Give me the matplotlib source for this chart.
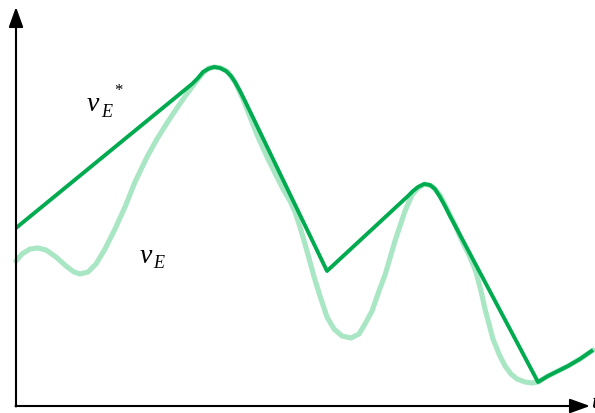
import matplotlib
matplotlib.use("Agg")
import matplotlib.pyplot as plt

# Sampled waveforms (time, voltage) in arbitrary units
t_ve = [0, 6, 14, 22, 30, 40, 50, 58, 64, 72,
        80, 89, 99, 109, 119, 131, 141, 151, 161, 170,
        179, 187, 193, 199, 205, 212, 219, 227, 234, 242,
        252, 260, 267, 274, 279, 284, 289, 294, 299, 304,
        311, 318, 326, 335, 343, 349, 356, 363, 369, 379,
        389, 396, 402, 409, 416, 424, 432, 439, 446, 453,
        460, 465, 469, 473, 477, 483, 489, 495, 501, 509,
        516, 522, 532, 542, 552, 564, 577]
v_ve = [145, 152, 157, 158, 156, 149, 140, 134, 132, 134,
        142, 157, 177, 199, 224, 249, 267, 283, 298, 311,
        323, 333, 338, 339, 338, 334, 324, 307, 289, 269,
        247, 231, 217, 205, 194, 179, 162, 144, 126, 110,
        89, 77, 70, 68, 72, 82, 95, 115, 131, 165,
        195, 211, 218, 222, 220, 211, 195, 181, 165, 151,
        134, 115, 97, 82, 67, 52, 40, 32, 27, 24,
        23, 24, 30, 35, 40, 47, 56]

t_ref = [0, 176, 182, 187, 192, 198, 204, 210, 215, 219,
         224, 229, 311, 392, 397, 402, 408, 414, 419, 424,
         429, 434, 522, 532, 542, 552, 564, 577]
v_ref = [178, 322, 328, 334, 337, 339, 338, 335, 330, 324,
         315, 305, 135, 210, 215, 219, 222, 221, 217, 209,
         200, 190, 24, 30, 35, 40, 47, 56]

t_axis_end = 574
v_axis_end = 399

fig = plt.figure(figsize=(5.95, 4.14), dpi=100)
ax = fig.add_axes([0, 0, 1, 1])
ax.set_xlim(-16, 579)
ax.set_ylim(-7, 407)
ax.axis("off")

light = "#a8e6c4"
dark = "#00aa4f"
ax.plot(t_ve, v_ve, color=light, lw=3.7, solid_joinstyle="round",
        solid_capstyle="round", zorder=2)
ax.plot(t_ref, v_ref, color=dark, lw=2.8, solid_joinstyle="round",
        solid_capstyle="butt", zorder=3)

arrow = dict(arrowstyle="-|>,head_length=0.61,head_width=0.22",
             mutation_scale=20, color="black", lw=1.5, shrinkA=0, shrinkB=0)
ax.annotate("", xy=(0, v_axis_end), xytext=(0, -0.5), arrowprops=arrow, zorder=4)
ax.annotate("", xy=(t_axis_end, 0), xytext=(-0.5, 0), arrowprops=arrow, zorder=4)

serif = dict(family="Liberation Serif", style="italic", color="black")
ax.text(71, 296, "v", fontsize=20, ha="left", va="baseline", **serif)
ax.text(85, 290, "E", fontsize=13, ha="left", va="baseline", **serif)
ax.text(98, 324, "*", fontsize=12, ha="left", va="top",
        family="Liberation Serif", color="black")
ax.text(124, 144, "v", fontsize=20, ha="left", va="baseline", **serif)
ax.text(137, 139, "E", fontsize=13, ha="left", va="baseline", **serif)
ax.text(575, -1, "t", fontsize=16, ha="left", va="baseline", **serif)

fig.savefig("out.png", dpi=100)
